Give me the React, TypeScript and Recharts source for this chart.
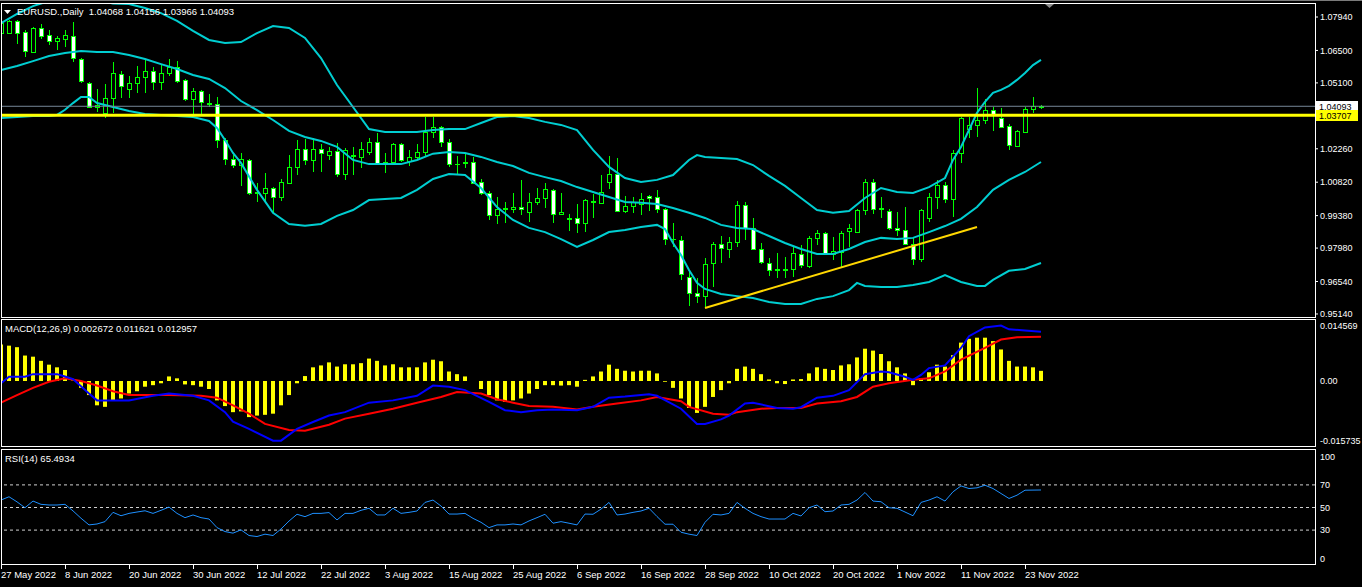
import React from 'react'
import { ComposedChart, Bar, Line, XAxis, YAxis, ReferenceLine } from 'recharts'

const FONT = '"Liberation Sans", Arial, sans-serif'
const LIME = '#00FF00'
const CYAN = '#00CED1'

// daily bars, 27 May 2022 .. 25 Nov 2022
const tickDates = ['27 May 2022', '8 Jun 2022', '20 Jun 2022', '30 Jun 2022', '12 Jul 2022', '22 Jul 2022', '3 Aug 2022', '15 Aug 2022', '25 Aug 2022', '6 Sep 2022', '16 Sep 2022', '28 Sep 2022', '10 Oct 2022', '20 Oct 2022', '1 Nov 2022', '11 Nov 2022', '23 Nov 2022']
const tickBars = [0, 8, 16, 24, 32, 40, 48, 56, 64, 72, 80, 88, 96, 104, 112, 120, 128]

const opens = [
  1.0725, 1.0725, 1.0777, 1.0729, 1.0643, 1.0747, 1.0716, 1.0691, 1.0699, 1.0712,
  1.0613, 1.0510, 1.0406, 1.0381, 1.0445, 1.0548, 1.0484, 1.0510, 1.0535, 1.0561,
  1.0514, 1.0553, 1.0579, 1.0523, 1.0441, 1.0475, 1.0423, 1.0419, 1.0264, 1.0182,
  1.0156, 1.0178, 1.0036, 1.0036, 1.0057, 1.0018, 1.0079, 1.0147, 1.0225, 1.0178,
  1.0225, 1.0199, 1.0216, 1.0117, 1.0199, 1.0191, 1.0212, 1.0255, 1.0165, 1.0169,
  1.0247, 1.0173, 1.0191, 1.0212, 1.0298, 1.0320, 1.0255, 1.0160, 1.0165, 1.0169,
  1.0083, 1.0036, 0.9941, 0.9967, 0.9967, 0.9975, 0.9954, 0.9997, 1.0014, 1.0049,
  0.9945, 0.9924, 0.9928, 0.9906, 1.0001, 0.9993, 1.0083, 1.0117, 0.9958, 0.9980,
  0.9988, 1.0023, 1.0018, 0.9967, 0.9837, 0.9833, 0.9674, 0.9604, 0.9592, 0.9734,
  0.9816, 0.9794, 0.9824, 0.9984, 0.9885, 0.9794, 0.9734, 0.9704, 0.9704, 0.9708,
  0.9773, 0.9721, 0.9842, 0.9863, 0.9773, 0.9781, 0.9872, 0.9867, 0.9962, 1.0083,
  0.9967, 0.9958, 0.9885, 0.9876, 0.9816, 0.9751, 0.9928, 1.0018, 1.0070, 1.0010,
  1.0208, 1.0311, 1.0329, 1.0350, 1.0394, 1.0359, 1.0324, 1.0238, 1.0298, 1.0398,
  1.04068,
]
const highs = [
  1.0781, 1.0781, 1.0781, 1.0738, 1.0751, 1.0764, 1.0738, 1.0712, 1.0738, 1.0772,
  1.0617, 1.0514, 1.0484, 1.0505, 1.0600, 1.0561, 1.0540, 1.0583, 1.0609, 1.0579,
  1.0587, 1.0613, 1.0604, 1.0527, 1.0488, 1.0479, 1.0462, 1.0449, 1.0272, 1.0199,
  1.0208, 1.0182, 1.0079, 1.0122, 1.0060, 1.0096, 1.0199, 1.0264, 1.0268, 1.0272,
  1.0247, 1.0234, 1.0251, 1.0229, 1.0234, 1.0255, 1.0272, 1.0294, 1.0208, 1.0251,
  1.0251, 1.0221, 1.0247, 1.0363, 1.0363, 1.0324, 1.0268, 1.0195, 1.0208, 1.0191,
  1.0096, 1.0044, 1.0018, 0.9997, 1.0036, 1.0092, 1.0036, 1.0057, 1.0079, 1.0053,
  1.0036, 0.9945, 0.9988, 1.0010, 1.0031, 1.0113, 1.0195, 1.0186, 1.0023, 1.0018,
  1.0036, 1.0027, 1.0049, 0.9971, 0.9906, 0.9850, 0.9695, 0.9669, 0.9755, 0.9824,
  0.9850, 0.9846, 1.0001, 0.9997, 0.9928, 0.9820, 0.9755, 0.9777, 0.9760, 0.9803,
  0.9811, 0.9850, 0.9876, 0.9867, 0.9846, 0.9872, 0.9902, 0.9967, 1.0096, 1.0096,
  1.0018, 0.9967, 0.9954, 0.9975, 0.9842, 0.9967, 1.0036, 1.0092, 1.0083, 1.0221,
  1.0363, 1.0363, 1.0488, 1.0441, 1.0406, 1.0402, 1.0333, 1.0307, 1.0406, 1.0449,
  1.04156,
]
const lows = [
  1.0695, 1.0721, 1.0678, 1.0622, 1.0639, 1.0699, 1.0673, 1.0652, 1.0665, 1.0600,
  1.0510, 1.0402, 1.0385, 1.0359, 1.0381, 1.0445, 1.0445, 1.0466, 1.0466, 1.0479,
  1.0479, 1.0540, 1.0510, 1.0432, 1.0372, 1.0372, 1.0406, 1.0229, 1.0156, 1.0143,
  1.0066, 1.0027, 0.9997, 0.9993, 0.9950, 1.0001, 1.0075, 1.0113, 1.0156, 1.0126,
  1.0126, 1.0178, 1.0104, 1.0092, 1.0113, 1.0143, 1.0199, 1.0156, 1.0122, 1.0156,
  1.0169, 1.0152, 1.0178, 1.0195, 1.0272, 1.0234, 1.0147, 1.0113, 1.0143, 1.0075,
  1.0027, 0.9919, 0.9902, 0.9906, 0.9950, 0.9941, 0.9911, 0.9984, 0.9971, 0.9906,
  0.9941, 0.9872, 0.9863, 0.9867, 0.9928, 0.9990, 1.0053, 0.9954, 0.9950, 0.9950,
  0.9941, 0.9958, 0.9950, 0.9811, 0.9803, 0.9661, 0.9548, 0.9562, 0.9540, 0.9630,
  0.9734, 0.9755, 0.9803, 0.9833, 0.9790, 0.9729, 0.9678, 0.9669, 0.9669, 0.9674,
  0.9712, 0.9712, 0.9811, 0.9768, 0.9747, 0.9717, 0.9803, 0.9863, 0.9941, 0.9945,
  0.9928, 0.9876, 0.9850, 0.9811, 0.9725, 0.9738, 0.9911, 0.9967, 0.9993, 0.9932,
  1.0165, 1.0272, 1.0277, 1.0333, 1.0303, 1.0316, 1.0221, 1.0233, 1.0294, 1.0381,
  1.03966,
]
const closes = [
  1.0768, 1.0777, 1.0725, 1.0647, 1.0747, 1.0712, 1.0691, 1.0704, 1.0716, 1.0617,
  1.0518, 1.0406, 1.0415, 1.0445, 1.0553, 1.0497, 1.0510, 1.0535, 1.0561, 1.0514,
  1.0553, 1.0579, 1.0518, 1.0441, 1.0475, 1.0428, 1.0419, 1.0264, 1.0182, 1.0156,
  1.0182, 1.0036, 1.0038, 1.0057, 1.0018, 1.0083, 1.0147, 1.0225, 1.0178, 1.0225,
  1.0208, 1.0216, 1.0117, 1.0221, 1.0195, 1.0225, 1.0255, 1.0165, 1.0169, 1.0247,
  1.0178, 1.0191, 1.0212, 1.0298, 1.0320, 1.0255, 1.0160, 1.0162, 1.0169, 1.0079,
  1.0036, 0.9941, 0.9967, 0.9969, 0.9975, 0.9967, 0.9997, 1.0014, 1.0053, 0.9945,
  0.9954, 0.9926, 0.9906, 1.0005, 0.9997, 1.0040, 1.0117, 0.9958, 0.9980, 0.9997,
  1.0010, 1.0014, 0.9967, 0.9837, 0.9839, 0.9687, 0.9604, 0.9592, 0.9729, 0.9816,
  0.9798, 0.9824, 0.9984, 0.9885, 0.9794, 0.9738, 0.9704, 0.9706, 0.9708, 0.9777,
  0.9725, 0.9842, 0.9863, 0.9773, 0.9786, 0.9863, 0.9885, 0.9962, 1.0083, 0.9967,
  0.9969, 0.9885, 0.9876, 0.9816, 0.9751, 0.9962, 1.0018, 1.0070, 1.0010, 1.0208,
  1.0359, 1.0329, 1.0350, 1.0394, 1.0376, 1.0320, 1.0242, 1.0303, 1.0398, 1.0411,
  1.04093,
]

// Bollinger bands (20,2) read at sample bars: [bar, price]
const upperBand = [
  [0, 1.0768], [2, 1.0807], [4, 1.0841], [6, 1.0863], [8, 1.0875], [10, 1.0878], [12, 1.0868], [14, 1.0852],
  [16, 1.0850], [18, 1.0833], [20, 1.0811], [22, 1.0777], [24, 1.0734], [26, 1.0695], [28, 1.0682], [30, 1.0686],
  [32, 1.0725], [34, 1.0755], [36, 1.0747], [38, 1.0704], [40, 1.0617], [42, 1.0501], [44, 1.0406], [46, 1.0311],
  [48, 1.0298], [50, 1.0298], [52, 1.0298], [54, 1.0307], [56, 1.0311], [58, 1.0311], [60, 1.0337], [62, 1.0363],
  [64, 1.0367], [66, 1.0359], [68, 1.0342], [70, 1.0329], [72, 1.0307], [74, 1.0221], [76, 1.0148], [78, 1.0100],
  [80, 1.0083], [82, 1.0092], [84, 1.0113], [86, 1.0178], [87, 1.0199], [88, 1.0191], [90, 1.0186], [92, 1.0182],
  [94, 1.0156], [96, 1.0109], [98, 1.0066], [100, 1.0014], [102, 0.9962], [104, 0.9950], [106, 0.9958], [108, 1.0014],
  [110, 1.0057], [112, 1.0040], [114, 1.0036], [116, 1.0061], [118, 1.0100], [119, 1.0178], [120, 1.0234], [121, 1.0307],
  [122, 1.0381], [123, 1.0428], [124, 1.0467], [125, 1.0480], [126, 1.0497], [127, 1.0523], [128, 1.0553], [129, 1.0587],
  [130, 1.0609],
]
const middleBand = [
  [0, 1.0566], [2, 1.0583], [4, 1.0604], [6, 1.0626], [8, 1.0639], [10, 1.0647], [12, 1.0643], [14, 1.0643],
  [16, 1.0630], [18, 1.0613], [20, 1.0591], [22, 1.0570], [24, 1.0544], [26, 1.0527], [28, 1.0488], [30, 1.0432],
  [32, 1.0393], [34, 1.0350], [36, 1.0303], [38, 1.0277], [40, 1.0260], [42, 1.0234], [44, 1.0178], [46, 1.0160],
  [48, 1.0160], [50, 1.0160], [52, 1.0178], [54, 1.0205], [56, 1.0212], [58, 1.0208], [60, 1.0191], [62, 1.0169],
  [64, 1.0152], [66, 1.0122], [68, 1.0104], [70, 1.0087], [72, 1.0061], [74, 1.0040], [76, 1.0018], [78, 0.9997],
  [80, 0.9993], [82, 0.9988], [84, 0.9971], [86, 0.9950], [88, 0.9928], [90, 0.9898], [92, 0.9885], [94, 0.9880],
  [96, 0.9850], [98, 0.9820], [100, 0.9794], [102, 0.9773], [104, 0.9773], [106, 0.9794], [108, 0.9824], [110, 0.9842],
  [112, 0.9837], [114, 0.9842], [116, 0.9867], [118, 0.9893], [120, 0.9924], [122, 0.9975], [124, 1.0049], [126, 1.0092],
  [128, 1.0126], [130, 1.0169],
]
const lowerBand = [
  [0, 1.0359], [2, 1.0363], [4, 1.0367], [6, 1.0367], [7, 1.0372], [8, 1.0394], [9, 1.0423], [10, 1.0449],
  [11, 1.0449], [12, 1.0423], [14, 1.0406], [16, 1.0389], [18, 1.0376], [20, 1.0372], [22, 1.0367], [24, 1.0363],
  [26, 1.0346], [27, 1.0316], [28, 1.0264], [29, 1.0208], [30, 1.0165], [32, 1.0049], [34, 0.9950], [36, 0.9902],
  [38, 0.9894], [40, 0.9902], [42, 0.9937], [44, 0.9962], [46, 1.0005], [48, 1.0010], [50, 1.0014], [52, 1.0049],
  [54, 1.0096], [56, 1.0117], [58, 1.0113], [60, 1.0057], [62, 0.9975], [64, 0.9919], [66, 0.9885], [68, 0.9867],
  [70, 0.9837], [72, 0.9803], [74, 0.9833], [76, 0.9867], [78, 0.9876], [80, 0.9889], [82, 0.9898], [83, 0.9880],
  [84, 0.9820], [85, 0.9768], [86, 0.9704], [87, 0.9648], [88, 0.9622], [90, 0.9600], [92, 0.9591], [94, 0.9583],
  [96, 0.9566], [98, 0.9557], [100, 0.9557], [102, 0.9579], [104, 0.9591], [106, 0.9617], [107, 0.9648], [108, 0.9635],
  [110, 0.9630], [112, 0.9630], [114, 0.9639], [116, 0.9652], [118, 0.9682], [120, 0.9652], [122, 0.9635], [123, 0.9635],
  [124, 0.9661], [126, 0.9700], [128, 0.9708], [130, 0.9734],
]
const trendLine = [[88, 0.9540], [122, 0.9889]]
const supportLevel = 1.03707
const bidPrice = 1.04093
const priceTicks = [1.0794, 1.065, 1.051, 1.0226, 1.0082, 0.9938, 0.9798, 0.9654, 0.9514]

// MACD(12,26,9)
const macdHist = [
  0.0096, 0.0093, 0.0089, 0.0067, 0.0064, 0.0053, 0.0043, 0.0036, 0.0029, 0.0001,
  -0.0018, -0.0037, -0.0064, -0.0068, -0.0051, -0.0046, -0.0033, -0.0027, -0.0015, -0.0011,
  -0.0006, 0.0012, 0.0007, -0.0009, -0.0011, -0.0015, -0.0021, -0.0051, -0.0066, -0.0082,
  -0.0080, -0.0095, -0.0091, -0.0089, -0.0086, -0.0064, -0.0037, -0.0006, 0.0013, 0.0036,
  0.0041, 0.0049, 0.0038, 0.0044, 0.0044, 0.0047, 0.0059, 0.0053, 0.0041, 0.0044,
  0.0036, 0.0036, 0.0036, 0.0049, 0.0056, 0.0052, 0.0025, 0.0018, 0.0012, 0.0000,
  -0.0021, -0.0037, -0.0051, -0.0055, -0.0051, -0.0046, -0.0033, -0.0021, -0.0011, -0.0011,
  -0.0012, -0.0011, -0.0015, 0.0003, 0.0012, 0.0025, 0.0043, 0.0032, 0.0027, 0.0025,
  0.0027, 0.0027, 0.0020, -0.0002, -0.0018, -0.0046, -0.0071, -0.0084, -0.0068, -0.0042,
  -0.0024, -0.0006, 0.0032, 0.0038, 0.0032, 0.0018, 0.0004, -0.0006, -0.0008, 0.0004,
  0.0005, 0.0020, 0.0036, 0.0032, 0.0029, 0.0041, 0.0044, 0.0062, 0.0085, 0.0080,
  0.0071, 0.0052, 0.0036, 0.0020, -0.0011, 0.0007, 0.0023, 0.0043, 0.0038, 0.0068,
  0.0101, 0.0111, 0.0114, 0.0114, 0.0105, 0.0083, 0.0053, 0.0038, 0.0038, 0.0036,
  0.002672,
]
const macdLine = [
  [0, -0.0006], [1, 0.0011], [3, 0.0011], [4, 0.0018], [7, 0.0018], [8, 0.0012], [9, 0.0005], [11, -0.0033],
  [12, -0.0051], [16, -0.0051], [19, -0.0039], [21, -0.0033], [24, -0.0039], [26, -0.0051], [28, -0.0082], [29, -0.0107],
  [31, -0.0126], [34, -0.0157], [35, -0.0157], [37, -0.0126], [39, -0.0108], [41, -0.0091], [43, -0.0082], [46, -0.0057],
  [49, -0.0051], [52, -0.0039], [54, -0.0012], [56, -0.0015], [58, -0.0024], [61, -0.0055], [63, -0.0077], [65, -0.0082],
  [67, -0.0077], [69, -0.0075], [72, -0.0077], [74, -0.0068], [76, -0.0044], [78, -0.0041], [81, -0.0035], [82, -0.0039],
  [85, -0.0073], [87, -0.0113], [88, -0.0113], [90, -0.0101], [91, -0.0091], [93, -0.0059], [94, -0.0057], [97, -0.0071],
  [99, -0.0073], [100, -0.0069], [102, -0.0044], [104, -0.0039], [106, -0.0024], [108, 0.0018], [110, 0.0025], [111, 0.0023],
  [113, 0.0011], [114, 0.0003], [115, 0.0016], [116, 0.0034], [118, 0.0041], [120, 0.0087], [121, 0.0118], [123, 0.0141],
  [125, 0.0146], [126, 0.0136], [128, 0.0133], [130, 0.012957],
]
const signalLine = [
  [0, -0.0057], [2, -0.0037], [4, -0.0018], [6, -0.0002], [8, 0.0007], [10, 0.0000], [12, -0.0012], [14, -0.0027],
  [16, -0.0037], [21, -0.0037], [25, -0.0039], [27, -0.0044], [29, -0.0064], [31, -0.0086], [33, -0.0113], [36, -0.0129],
  [38, -0.0131], [41, -0.0115], [43, -0.0099], [46, -0.0086], [49, -0.0073], [52, -0.0057], [55, -0.0042], [57, -0.0029],
  [60, -0.0033], [62, -0.0048], [64, -0.0057], [66, -0.0066], [69, -0.0068], [72, -0.0075], [74, -0.0068], [77, -0.0059],
  [80, -0.0051], [82, -0.0042], [85, -0.0053], [86, -0.0068], [89, -0.0086], [91, -0.0089], [92, -0.0082], [95, -0.0073],
  [97, -0.0071], [100, -0.0071], [102, -0.0059], [105, -0.0053], [107, -0.0042], [109, -0.0015], [111, -0.0006], [114, 0.0003],
  [116, 0.0007], [118, 0.0025], [120, 0.0056], [123, 0.0087], [125, 0.0109], [127, 0.0115], [130, 0.011621],
]
const macdTicks = [0.014569, 0, -0.015735]
const macdTickLabels = ['0.014569', '0.00', '-0.015735']

// RSI(14)
const rsiValues = [
  56.6, 59.5, 55, 49.8, 55.7, 52.8, 52.2, 52.2, 52.8, 47,
  40.5, 34.6, 35.4, 37.5, 45.7, 42.7, 44.8, 46, 47.1, 44.8,
  47.5, 50.4, 44.8, 41, 43.4, 41, 39.8, 32.2, 28.7, 27.3,
  30.2, 25.2, 24.3, 26.4, 25.2, 31, 38, 44, 41.9, 44.8,
  44.8, 45.5, 39, 44.8, 44.8, 47.5, 49.3, 43.4, 43.4, 49.3,
  44.8, 45.7, 46.9, 54.5, 56.6, 51.3, 44.2, 44.2, 44.8, 40.4,
  36.9, 32.2, 34.6, 34.6, 35.4, 34.6, 38.1, 41, 44, 36.1,
  37.5, 36.1, 34.6, 44.2, 44, 48.6, 54.5, 43.4, 44.2, 45.7,
  46.9, 49.3, 42, 35.2, 35.2, 28.1, 26.4, 25.2, 36.9, 44,
  43.4, 44.8, 54.5, 49.3, 44.8, 41.9, 39.8, 39.8, 39.8, 44.8,
  42.5, 49.8, 52.2, 46.3, 46.9, 52.2, 52.8, 56.6, 63.3, 55.7,
  55.1, 49.8, 49.3, 46, 42.7, 54.5, 56.6, 59.5, 55.7, 63.9,
  69.1, 66.8, 67.4, 69.7, 66.8, 62.4, 58, 60.9, 65.3, 65.4,
  65.4934,
]
const rsiTicks = [100, 70, 50, 30, 0]
const rsiLevels = [70, 50, 30]

const rows: any[] = closes.map((c, i) => ({
  bar: i,
  open: opens[i],
  high: highs[i],
  low: lows[i],
  close: c,
  range: [lows[i], highs[i]],
  hist: macdHist[i],
  rsi: rsiValues[i],
  upper: null,
  middle: null,
  lower: null,
  trend: null,
  macd: null,
  signal: null,
}))
const fill = (list: number[][], key: string) => list.forEach(([i, v]) => { rows[i][key] = v })
fill(upperBand, 'upper')
fill(middleBand, 'middle')
fill(lowerBand, 'lower')
fill(trendLine, 'trend')
fill(macdLine, 'macd')
fill(signalLine, 'signal')

const X_DOMAIN: [number, number] = [0, 164.25]

const Candle = (props: any) => {
  const { x, y, width, height, payload } = props
  if (!payload || payload.high == null || x == null) return null
  const cx = Math.round(x + width / 2)
  const top = Math.min(y, y + height)
  const h = Math.abs(height)
  const k = h / (payload.high - payload.low)
  const py = (v: number) => top + (payload.high - v) * k
  const yo = py(payload.open)
  const yc = py(payload.close)
  const bTop = Math.round(Math.min(yo, yc))
  const bBot = Math.round(Math.max(yo, yc))
  const bear = payload.close < payload.open
  return (
    <g shapeRendering="crispEdges">
      <line x1={cx + 0.5} x2={cx + 0.5} y1={Math.round(top)} y2={Math.round(top + h)} stroke={LIME} />
      {bBot - bTop < 1 ? (
        <line x1={cx - 2} x2={cx + 3} y1={bTop + 0.5} y2={bTop + 0.5} stroke={LIME} />
      ) : (
        <rect x={cx - 1.5} y={bTop + 0.5} width={4} height={bBot - bTop} fill={bear ? '#FFFFFF' : '#000000'} stroke={LIME} />
      )}
    </g>
  )
}

const PriceTick = ({ x, y, payload }: any) => (
  <text x={x} y={y} dy="0.355em" fill="#FFFFFF" fontSize={9} fontFamily={FONT} textAnchor="start">
    {Number(payload.value).toFixed(5)}
  </text>
)

const MacdTick = ({ x, y, payload }: any) => {
  const idx = macdTicks.indexOf(payload.value)
  return (
    <text x={x} y={y} dy="0.355em" fill="#FFFFFF" fontSize={9} fontFamily={FONT} textAnchor="start">
      {macdTickLabels[idx]}
    </text>
  )
}

const RsiTick = ({ x, y, payload }: any) => {
  const v = payload.value
  const nudge = v === 100 ? 6 : v === 0 ? -5 : 0
  return (
    <text x={x} y={y + nudge} dy="0.355em" fill="#FFFFFF" fontSize={9} fontFamily={FONT} textAnchor="start">
      {v}
    </text>
  )
}

const DateTick = ({ x, y, payload }: any) => {
  const idx = tickBars.indexOf(payload.value)
  const px = Math.round(x)
  return (
    <g>
      <line x1={px + 0.5} x2={px + 0.5} y1={y + 1} y2={y + 5} stroke="#FFFFFF" />
      <text x={px} y={y + 11} dy="0.355em" fill="#FFFFFF" fontSize={9.5} fontFamily={FONT} textAnchor="start">
        {tickDates[idx]}
      </text>
    </g>
  )
}

const PriceTag = ({ viewBox, text, bg }: any) => {
  if (!viewBox) return null
  const lx = viewBox.x + viewBox.width + 1
  const ly = Math.round(viewBox.y)
  return (
    <g>
      <rect x={lx} y={ly - 5} width={42} height={11} fill={bg} />
      <text x={lx + 3} y={ly + 0.5} dy="0.355em" fill="#000000" fontSize={9} fontFamily={FONT}>
        {text}
      </text>
    </g>
  )
}

const frame = (top: number, height: number): React.CSSProperties => ({
  position: 'absolute', left: 1, top, width: 1315, height, border: '1px solid #FFFFFF', boxSizing: 'border-box', pointerEvents: 'none',
})

const label = (left: number, top: number): React.CSSProperties => ({
  position: 'absolute', left, top, color: '#FFFFFF', fontSize: 9.5, fontFamily: FONT, whiteSpace: 'pre', lineHeight: '11px',
})

export default function App() {
  return (
    <div style={{ position: 'fixed', left: 0, top: 0, width: 1362, height: 587, background: '#000000', overflow: 'hidden' }}>
      <div style={{ position: 'absolute', left: 0, top: 0, width: 1362, height: 1, background: '#7A7A7A' }} />

      {/* price window */}
      <div style={{ position: 'absolute', left: 0, top: 0 }}>
        <ComposedChart width={1362} height={330} data={rows} margin={{ top: 4, right: 0, bottom: 14, left: 1 }}>
          <XAxis type="number" dataKey="bar" domain={X_DOMAIN} hide allowDataOverflow />
          <YAxis
            orientation="right"
            width={47}
            domain={[0.95053, 1.08501]}
            allowDataOverflow
            ticks={priceTicks}
            interval={0}
            tick={<PriceTick />}
            tickSize={3}
            tickMargin={2}
            tickLine={{ stroke: '#FFFFFF' }}
            axisLine={false}
          />
          <Bar dataKey="range" barSize={5} shape={<Candle />} isAnimationActive={false} />
          <Line dataKey="upper" stroke={CYAN} strokeWidth={2} dot={false} activeDot={false} connectNulls isAnimationActive={false} />
          <Line dataKey="middle" stroke={CYAN} strokeWidth={2} dot={false} activeDot={false} connectNulls isAnimationActive={false} />
          <Line dataKey="lower" stroke={CYAN} strokeWidth={2} dot={false} activeDot={false} connectNulls isAnimationActive={false} />
          <Line dataKey="trend" stroke="#FFD700" strokeWidth={2} dot={false} activeDot={false} connectNulls isAnimationActive={false} />
          <ReferenceLine y={bidPrice} stroke="#778899" label={<PriceTag text={bidPrice.toFixed(5)} bg="#FFFFFF" />} />
          <ReferenceLine y={supportLevel} stroke="#FFFF00" strokeWidth={3} label={<PriceTag text={supportLevel.toFixed(5)} bg="#FFFF00" />} />
        </ComposedChart>
      </div>

      {/* MACD window */}
      <div style={{ position: 'absolute', left: 0, top: 320 }}>
        <ComposedChart width={1362} height={126} data={rows} margin={{ top: 0, right: 0, bottom: 0, left: 1 }}>
          <XAxis type="number" dataKey="bar" domain={X_DOMAIN} hide allowDataOverflow />
          <YAxis
            orientation="right"
            width={47}
            domain={[-0.017105, 0.016053]}
            allowDataOverflow
            ticks={macdTicks}
            interval={0}
            tick={<MacdTick />}
            tickSize={3}
            tickMargin={2}
            tickLine={false}
            axisLine={false}
          />
          <Bar dataKey="hist" barSize={4} fill="#FFFF00" isAnimationActive={false} />
          <Line dataKey="signal" stroke="#FF0000" strokeWidth={2} dot={false} activeDot={false} connectNulls isAnimationActive={false} />
          <Line dataKey="macd" stroke="#0000FF" strokeWidth={2} dot={false} activeDot={false} connectNulls isAnimationActive={false} />
        </ComposedChart>
      </div>

      {/* RSI window */}
      <div style={{ position: 'absolute', left: 0, top: 451 }}>
        <ComposedChart width={1362} height={135} data={rows} margin={{ top: 0, right: 0, bottom: 0, left: 1 }}>
          <XAxis
            type="number"
            dataKey="bar"
            domain={X_DOMAIN}
            allowDataOverflow
            ticks={tickBars}
            interval={0}
            tick={<DateTick />}
            tickLine={false}
            axisLine={false}
            tickSize={0}
            tickMargin={0}
            height={22}
          />
          <YAxis
            orientation="right"
            width={47}
            domain={[0, 100]}
            allowDataOverflow
            ticks={rsiTicks}
            interval={0}
            tick={<RsiTick />}
            tickSize={3}
            tickMargin={2}
            tickLine={false}
            axisLine={false}
          />
          {rsiLevels.map((lv) => (
            <ReferenceLine key={lv} y={lv} stroke="#D0D0D0" strokeDasharray="3 3" />
          ))}
          <Line dataKey="rsi" stroke="#1E90FF" strokeWidth={1} dot={false} activeDot={false} isAnimationActive={false} />
        </ComposedChart>
      </div>

      <div style={frame(3, 315)} />
      <div style={frame(319, 128)} />
      <div style={frame(449, 116)} />

      <svg style={{ position: 'absolute', left: 0, top: 0 }} width={1362} height={20}>
        <polygon points="4,10 11,10 7.5,14" fill="#FFFFFF" />
        <polygon points="1045,4 1054,4 1049.5,8" fill="#8A8A8A" />
      </svg>
      <div style={label(17, 6)}>{'EURUSD.,Daily  1.04068 1.04156 1.03966 1.04093'}</div>
      <div style={label(5, 323)}>{'MACD(12,26,9) 0.002672 0.011621 0.012957'}</div>
      <div style={label(5, 453)}>{'RSI(14) 65.4934'}</div>
    </div>
  )
}
